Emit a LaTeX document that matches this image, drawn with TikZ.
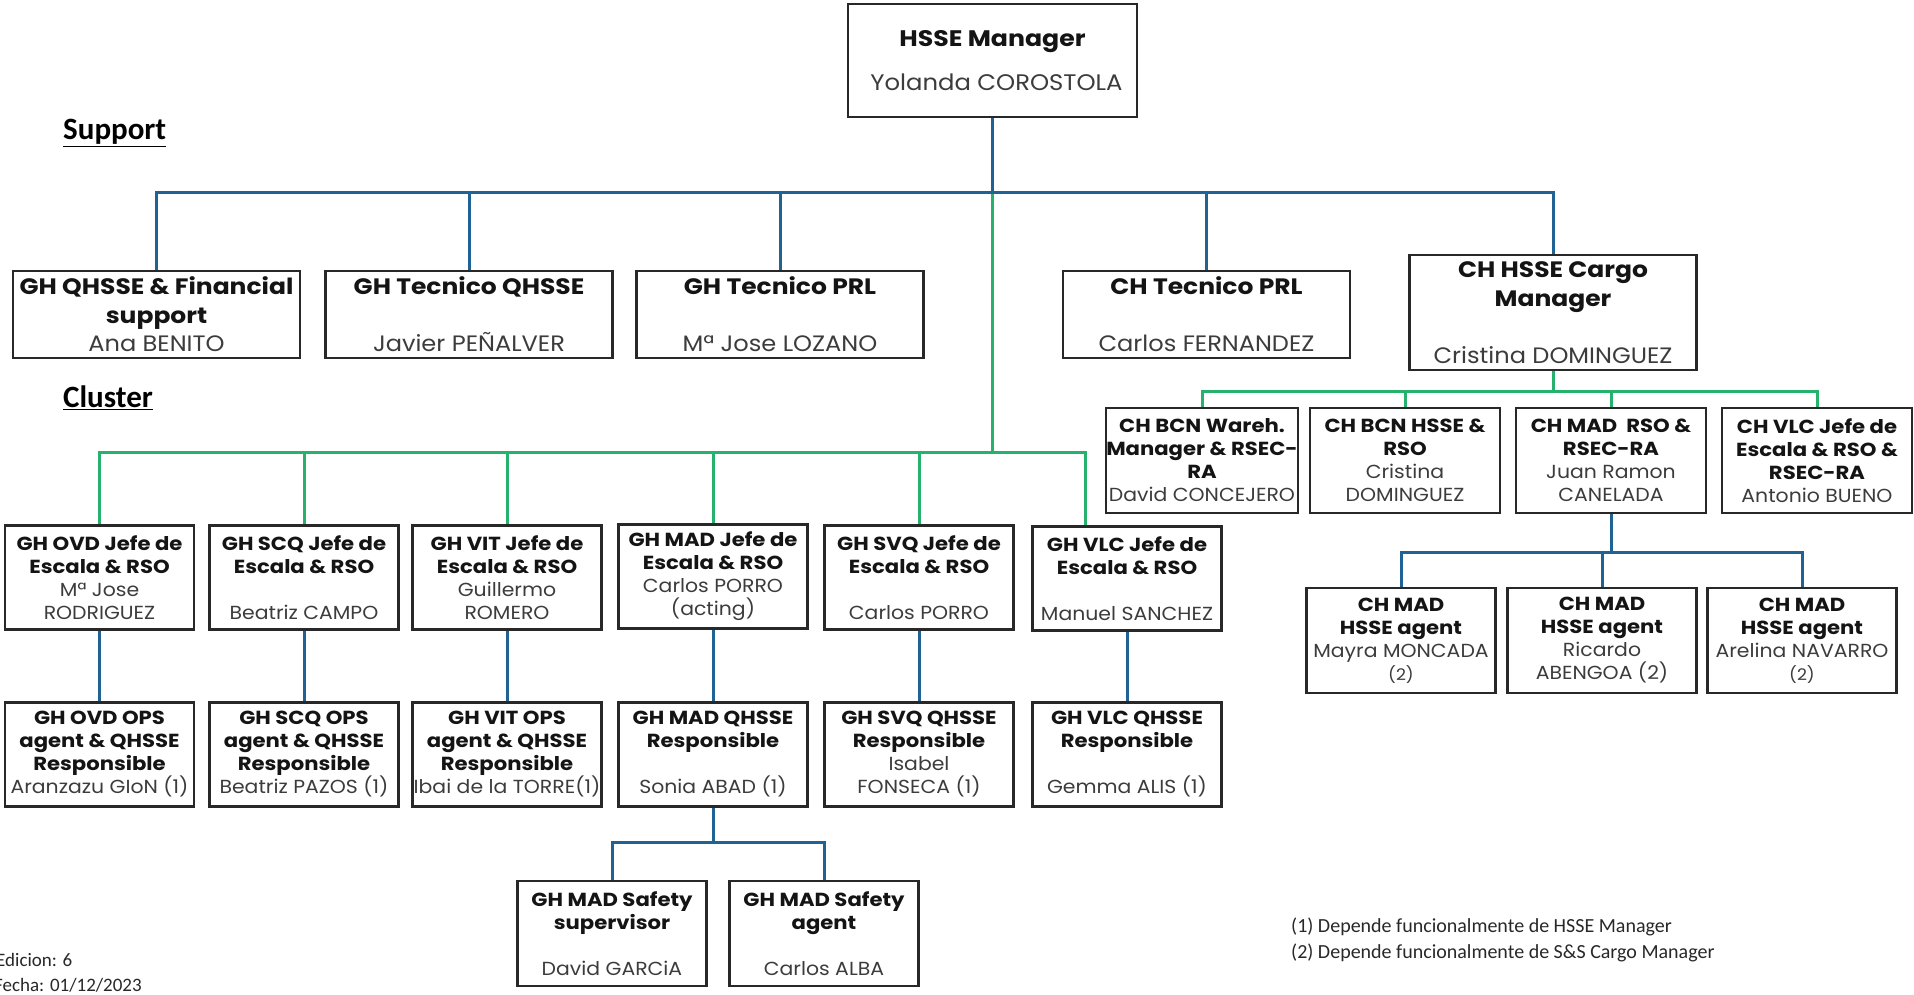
\documentclass[tikz,border=0pt]{standalone}
\usepackage{fontspec}
\newfontfamily\boxfont[FakeStretch=1.08,BoldFeatures={FakeStretch=1.12}]{Poppins}
\newfontfamily\notefont{Carlito}
\usetikzlibrary{calc}
\definecolor{lineblue}{RGB}{33,98,148}
\definecolor{linegreen}{RGB}{38,178,108}
\definecolor{boxc}{RGB}{40,40,40}
\definecolor{namec}{RGB}{60,60,60}
\definecolor{titlec}{RGB}{20,20,20}
\definecolor{notec}{RGB}{40,40,40}
\newcommand\tb[1]{{\bfseries #1}}
\newcommand\nm[1]{{\color{namec}#1}}
\newcommand\sm[1]{{\color{namec}\fontsize{16}{23}\selectfont #1}}
\begin{document}
\begin{tikzpicture}[x=1pt,y=-1pt,
  box/.style={draw=boxc, line width=2.4pt, fill=white, align=center, inner sep=0pt, text=titlec},
  bigbox/.style={box, minimum width=289pt, minimum height=113pt, font=\boxfont\fontsize{22.5}{44}\selectfont},
  supbox/.style={box, minimum width=287pt, minimum height=87pt, font=\boxfont\fontsize{22.3}{28.5}\selectfont},
  clbox/.style={box, minimum width=189pt, minimum height=104pt, font=\boxfont\fontsize{18.9}{23}\selectfont},
  bl/.style={draw=lineblue, line width=3pt},
  gr/.style={draw=linegreen, line width=3pt},
  lab/.style={font=\notefont\bfseries\fontsize{31}{33}\selectfont, text=black, inner sep=0pt, anchor=west},
  note/.style={font=\notefont\fontsize{20}{22}\selectfont, text=notec, inner sep=0pt, anchor=west},
  ]
\useasboundingbox[fill=white] (0,0) rectangle (1914,995);

% top
\node[bigbox] (hsse) at (992.5,60.5) {\tb{HSSE Manager}\\\nm{\hspace*{8pt}Yolanda COROSTOLA}};

% support row
\node[supbox] (s1) at (156.5,314.5) {\tb{GH QHSSE \& Financial}\\\tb{support}\\\nm{Ana BENITO}};
\node[supbox] (s2) at (469,314.5) {\tb{GH Tecnico QHSSE}\\~\\\nm{Javier PEÑALVER}};
\node[supbox] (s3) at (780,314.5) {\tb{GH Tecnico PRL}\\~\\\nm{Mª Jose LOZANO}};
\node[supbox] (s4) at (1206.5,314.5) {\tb{CH Tecnico PRL}\\~\\\nm{Carlos FERNANDEZ}};
\node[supbox, minimum height=115pt] (s5) at (1553,312.5) {\tb{CH HSSE Cargo}\\\tb{Manager}\\~\\\nm{Cristina DOMINGUEZ}};

% cluster row 1
\node[clbox] (c1) at (99.5,577.5) {\tb{GH OVD Jefe de}\\\tb{Escala \& RSO}\\\nm{Mª Jose}\\\nm{RODRIGUEZ}};
\node[clbox] (c2) at (304,577.5) {\tb{GH SCQ Jefe de}\\\tb{Escala \& RSO}\\~\\\nm{Beatriz CAMPO}};
\node[clbox] (c3) at (507,577.5) {\tb{GH VIT Jefe de}\\\tb{Escala \& RSO}\\\nm{Guillermo}\\\nm{ROMERO}};
\node[clbox] (c4) at (713,576.5) {\tb{GH MAD Jefe de}\\\tb{Escala \& RSO}\\\nm{Carlos PORRO}\\\nm{(acting)}};
\node[clbox] (c5) at (919,577.5) {\tb{GH SVQ Jefe de}\\\tb{Escala \& RSO}\\~\\\nm{Carlos PORRO}};
\node[clbox] (c6) at (1127,578.5) {\tb{GH VLC Jefe de}\\\tb{Escala \& RSO}\\~\\\nm{Manuel SANCHEZ}};

% cluster row 2
\node[clbox] (r1) at (99.5,754.5) {\tb{GH OVD OPS}\\\tb{agent \& QHSSE}\\\tb{Responsible}\\\nm{Aranzazu GIoN (1)}};
\node[clbox] (r2) at (304,754.5) {\tb{GH SCQ OPS}\\\tb{agent \& QHSSE}\\\tb{Responsible}\\\nm{Beatriz PAZOS (1)}};
\node[clbox] (r3) at (507,754.5) {\tb{GH VIT OPS}\\\tb{agent \& QHSSE}\\\tb{Responsible}\\\nm{Ibai de la TORRE(1)}};
\node[clbox] (r4) at (713,754.5) {\tb{GH MAD QHSSE}\\\tb{Responsible}\\~\\\nm{Sonia ABAD (1)}};
\node[clbox] (r5) at (919,754.5) {\tb{GH SVQ QHSSE}\\\tb{Responsible}\\\nm{Isabel}\\\nm{FONSECA (1)}};
\node[clbox] (r6) at (1127,754.5) {\tb{GH VLC QHSSE}\\\tb{Responsible}\\~\\\nm{Gemma ALIS (1)}};

% MAD safety
\node[clbox, minimum height=105pt] (m1) at (612,933.5) {\tb{GH MAD Safety}\\\tb{supervisor}\\~\\\nm{David GARCiA}};
\node[clbox, minimum height=105pt] (m2) at (824,933.5) {\tb{GH MAD Safety}\\\tb{agent}\\~\\\nm{Carlos ALBA}};

% cargo row
\node[clbox, minimum width=192pt, minimum height=105pt] (k1) at (1202,460.5) {\tb{CH BCN Wareh.}\\\tb{Manager \& RSEC-}\\\tb{RA}\\\nm{David CONCEJERO}};
\node[clbox, minimum width=190pt, minimum height=105pt] (k2) at (1405,460.5) {\tb{CH BCN HSSE \&}\\\tb{RSO}\\\nm{Cristina}\\\nm{DOMINGUEZ}};
\node[clbox, minimum width=190pt, minimum height=105pt] (k3) at (1611,460.5) {\tb{CH MAD\ \ RSO \&}\\\tb{RSEC-RA}\\\nm{Juan Ramon}\\\nm{CANELADA}};
\node[clbox, minimum width=190pt, minimum height=105pt] (k4) at (1817,460.5) {\tb{CH VLC Jefe de}\\\tb{Escala \& RSO \&}\\\tb{RSEC-RA}\\\nm{Antonio BUENO}};

% cargo agents
\node[clbox, minimum height=105pt] (a1) at (1401,640.5) {\tb{CH MAD}\\\tb{HSSE agent}\\\nm{Mayra MONCADA}\\\sm{(2)}};
\node[clbox, minimum height=105pt] (a2) at (1602,640.5) {\tb{CH MAD}\\\tb{HSSE agent}\\\nm{Ricardo}\\\nm{ABENGOA (2)}};
\node[clbox, minimum height=105pt] (a3) at (1802,640.5) {\tb{CH MAD}\\\tb{HSSE agent}\\\nm{Arelina NAVARRO}\\\sm{(2)}};

% labels
\node[lab] (lsup) at (63,133) {\underline{Support}};
\node[lab] (lclu) at (63,398) {\underline{Cluster}};
\node[note] (n1) at (1291,927) {(1) Depende funcionalmente de HSSE Manager};
\node[note] (n2) at (1291,953) {(2) Depende funcionalmente de S\&S Cargo Manager};
\node[note, font=\notefont\fontsize{19}{21}\selectfont] (ed) at (-4,960) {Edicion: 6};
\node[note, font=\notefont\fontsize{19}{21}\selectfont] (fe) at (-6,985) {Fecha: 01/12/2023};

% connectors
\coordinate (tj) at (992.5,193);
\coordinate (gj) at (992.5,452);
\coordinate (c6in) at (1085,525);
\coordinate (kj) at (1553,391);
\coordinate (aj) at (1611,552);
\coordinate (mj) at (713,842);

\draw[gr] (tj) -- (gj);
\draw[gr] (c1.north) |- (gj) -| (c6in);
\foreach \n in {c2,c3,c4,c5} \draw[gr] (\n.north) -- (\n.north |- gj);

\draw[bl] (hsse.south) -- (tj);
\draw[bl] (s1.north) |- (tj) -| (s5.north);
\foreach \n in {s2,s3,s4} \draw[bl] (\n.north) -- (\n.north |- tj);

\draw[gr] (s5.south) -- (kj);
\draw[gr] (k1.north) |- (kj) -| (k4.north);
\foreach \n in {k2,k3} \draw[gr] (\n.north) -- (\n.north |- kj);

\draw[bl] (k3.south) -- (aj);
\draw[bl] (a1.north) |- (aj) -| (a3.north);
\draw[bl] (a2.north) -- (a2.north |- aj);

\draw[bl] (c1.south) -- (r1.north);
\draw[bl] (c2.south) -- (r2.north);
\draw[bl] (c3.south) -- (r3.north);
\draw[bl] (c4.south) -- (r4.north);
\draw[bl] (c5.south) -- (r5.north);
\draw[bl] (c6.south) -- (r6.north);

\draw[bl] (r4.south) -- (mj);
\draw[bl] (m1.north) |- (mj) -| (m2.north);
\end{tikzpicture}
\end{document}
